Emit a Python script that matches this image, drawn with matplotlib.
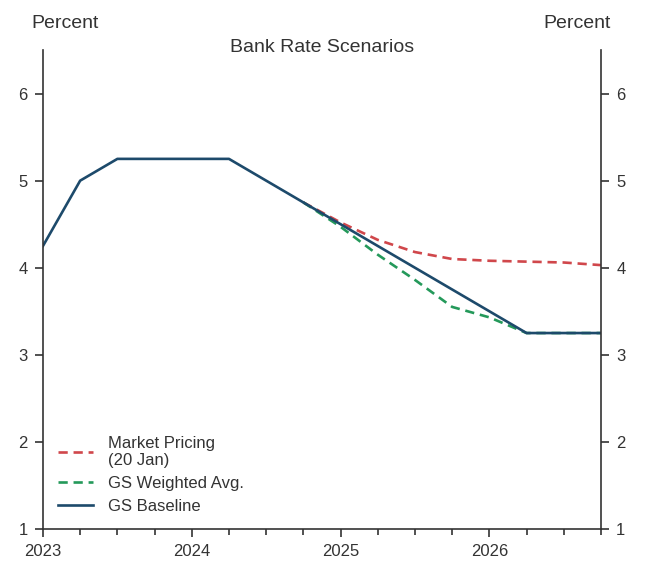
import matplotlib
matplotlib.use("Agg")
import matplotlib.pyplot as plt
from matplotlib.ticker import MultipleLocator, FixedLocator

plt.rcParams['font.family'] = ['Liberation Sans', 'DejaVu Sans']

x = [2023.0, 2023.25, 2023.5, 2023.75, 2024.0, 2024.25, 2024.5, 2024.75,
     2025.0, 2025.25, 2025.5, 2025.75, 2026.0, 2026.25, 2026.5, 2026.75]
gs_baseline = [4.25, 5.0, 5.25, 5.25, 5.25, 5.25, 5.0, 4.75,
               4.5, 4.25, 4.0, 3.75, 3.5, 3.25, 3.25, 3.25]
x_fc = [2024.75, 2025.0, 2025.25, 2025.5, 2025.75, 2026.0, 2026.25, 2026.5, 2026.75]
market = [4.75, 4.52, 4.32, 4.18, 4.10, 4.08, 4.07, 4.06, 4.03]
gs_weighted = [4.75, 4.47, 4.15, 3.86, 3.55, 3.43, 3.25, 3.25, 3.25]
year_ticks = [2023, 2024, 2025, 2026]

txt = '#333333'
fig = plt.figure(figsize=(6.57, 5.79), dpi=100)
ax = fig.add_axes([0.0654, 0.0864, 0.8493, 0.8272])

ax.plot(x_fc, market, color='#d0474b', lw=1.9, ls=(0, (3.5, 2.2)), label='Market Pricing\n(20 Jan)')
ax.plot(x_fc, gs_weighted, color='#24995a', lw=1.9, ls=(0, (3.5, 2.2)), label='GS Weighted Avg.')
ax.plot(x, gs_baseline, color='#1d4a6b', lw=1.9, label='GS Baseline')

ax.set_xlim(2023, 2026.75)
ax.set_ylim(1, 6.5)
ax.xaxis.set_major_locator(FixedLocator(year_ticks))
ax.set_xticklabels([str(y) for y in year_ticks])
ax.xaxis.set_minor_locator(MultipleLocator(0.25))
ax.yaxis.set_major_locator(FixedLocator([1, 2, 3, 4, 5, 6]))

for s in ['left', 'right', 'bottom']:
    ax.spines[s].set_color('#333333')
    ax.spines[s].set_linewidth(1.2)
ax.spines['top'].set_visible(False)

ax.tick_params(axis='both', which='major', direction='out', length=6, width=1.2,
               colors='#333333', labelcolor=txt, labelsize=12, pad=5)
ax.tick_params(axis='x', which='minor', direction='out', length=4, width=1.2, colors='#333333')
ax.tick_params(axis='y', left=True, right=True, labelleft=True, labelright=True)

fig.text(0.490, 0.918, 'Bank Rate Scenarios', fontsize=14, color=txt, va='center', ha='center')
fig.text(0.048, 0.959, 'Percent', fontsize=14, color=txt, va='center', ha='left')
fig.text(0.929, 0.959, 'Percent', fontsize=14, color=txt, va='center', ha='right')

leg = ax.legend(loc='lower left', frameon=False, fontsize=12, handlelength=2.1,
                labelcolor=txt, handletextpad=0.9, labelspacing=0.48,
                borderaxespad=0.5, borderpad=0.4)

fig.savefig('out.png', dpi=100)
